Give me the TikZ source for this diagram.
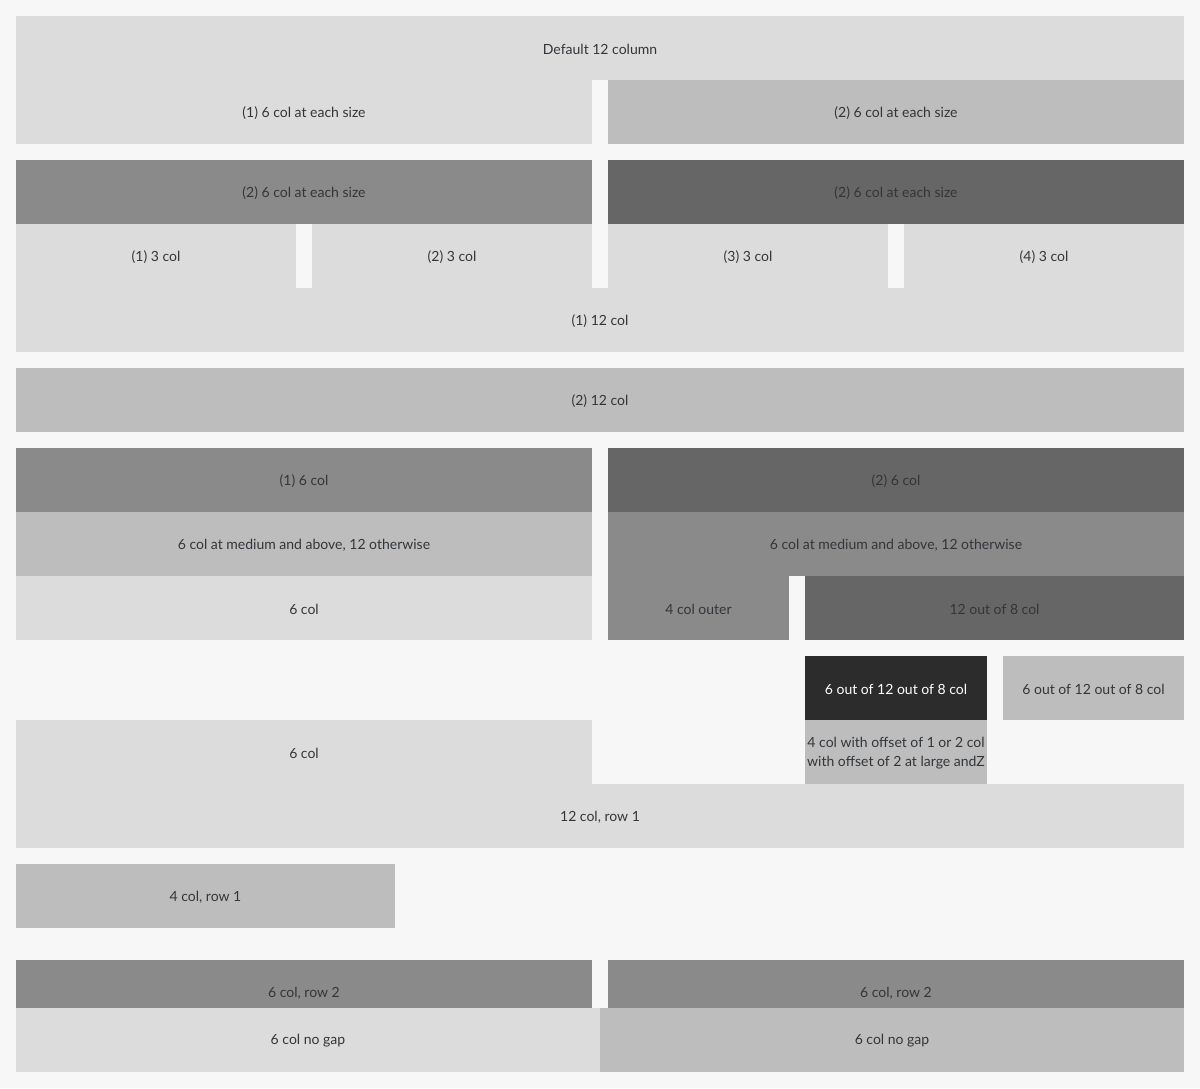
\documentclass[tikz,border=0pt]{standalone}
\usepackage{fontspec}
\setmainfont{Lato}
\definecolor{pagebg}{HTML}{F7F7F7}
\definecolor{shadeA}{HTML}{DCDCDC}
\definecolor{shadeB}{HTML}{BDBDBD}
\definecolor{shadeC}{HTML}{8A8A8A}
\definecolor{shadeD}{HTML}{666666}
\definecolor{shadeE}{HTML}{2C2C2C}
\definecolor{ink}{HTML}{32363A}
\tikzset{
  cell/.style={rectangle, draw=none, inner sep=0pt, text=ink,
    font=\fontsize{14}{19}\selectfont, align=center},
  lite/.style={cell, fill=shadeA},
  mid/.style={cell, fill=shadeB},
  deep/.style={cell, fill=shadeC},
  dark/.style={cell, fill=shadeD},
  black/.style={cell, fill=shadeE, text=white},
  lbl/.style={inner sep=0pt, text=ink, font=\fontsize{14}{19}\selectfont}
}
% \gridcell{style}{name}{x1}{y1}{x2}{y2}{text}: a filled cell with its label
\newcommand{\gridcell}[7]{%
  \fill[#1/fill] ({#3},{#4}) rectangle ({#5},{#6});
  \node[#1, fill=none] (#2) at ({((#3)+(#5))/2},{((#4)+(#6))/2+1}) {#7};}
\tikzset{
  lite/fill/.style={shadeA}, mid/fill/.style={shadeB}, deep/fill/.style={shadeC},
  dark/fill/.style={shadeD}, black/fill/.style={shadeE}
}
\begin{document}
\begin{tikzpicture}[x=1pt, y=-1pt]
\fill[pagebg] (0,0) rectangle (1200,1088);
\useasboundingbox (0,0) rectangle (1200,1088);

\gridcell{lite}{default}{16}{16}{1184}{80}{Default 12 column}
\gridcell{lite}{sixA}{16}{80}{592}{144}{(1) 6 col at each size}
\gridcell{mid}{sixB}{608}{80}{1184}{144}{(2) 6 col at each size}

\gridcell{deep}{sixC}{16}{160}{592}{224}{(2) 6 col at each size}
\gridcell{dark}{sixD}{608}{160}{1184}{224}{(2) 6 col at each size}
\gridcell{lite}{threeA}{16}{224}{296}{288}{(1) 3 col}
\gridcell{lite}{threeB}{312}{224}{592}{288}{(2) 3 col}
\gridcell{lite}{threeC}{608}{224}{888}{288}{(3) 3 col}
\gridcell{lite}{threeD}{904}{224}{1184}{288}{(4) 3 col}
\gridcell{lite}{twelveA}{16}{288}{1184}{352}{(1) 12 col}

\gridcell{mid}{twelveB}{16}{368}{1184}{432}{(2) 12 col}

\gridcell{deep}{halfA}{16}{448}{592}{512}{(1) 6 col}
\gridcell{dark}{halfB}{608}{448}{1184}{512}{(2) 6 col}
\gridcell{mid}{medA}{16}{512}{592}{576}{6 col at medium and above, 12 otherwise}
\gridcell{deep}{medB}{608}{512}{1184}{576}{6 col at medium and above, 12 otherwise}
\gridcell{lite}{halfC}{16}{576}{592}{640}{6 col}
\gridcell{deep}{outer}{608}{576}{789}{640}{4 col outer}
\gridcell{dark}{inner}{805}{576}{1184}{640}{12 out of 8 col}

\gridcell{black}{nestA}{805}{656}{987}{720}{6 out of 12 out of 8 col}
\gridcell{mid}{nestB}{1003}{656}{1184}{720}{6 out of 12 out of 8 col}
\gridcell{mid}{offset}{805}{720}{987}{784}{4 col with offset of 1 or 2 col\\with offset of 2 at large andZ}
\gridcell{lite}{halfD}{16}{720}{592}{784}{6 col}
\gridcell{lite}{rowA}{16}{784}{1184}{848}{12 col, row 1}

\gridcell{mid}{rowB}{16}{864}{395}{928}{4 col, row 1}

% second-row cells: their lower part is covered by the no-gap row
\fill[shadeC] (16,960) rectangle (592,1008);
\fill[shadeC] (608,960) rectangle (1184,1008);
\node[lbl] (rowC) at (304,993) {6 col, row 2};
\node[lbl] (rowD) at (896,993) {6 col, row 2};
\gridcell{lite}{gapA}{16}{1008}{600}{1072}{6 col no gap}
\gridcell{mid}{gapB}{600}{1008}{1184}{1072}{6 col no gap}
\end{tikzpicture}
\end{document}
